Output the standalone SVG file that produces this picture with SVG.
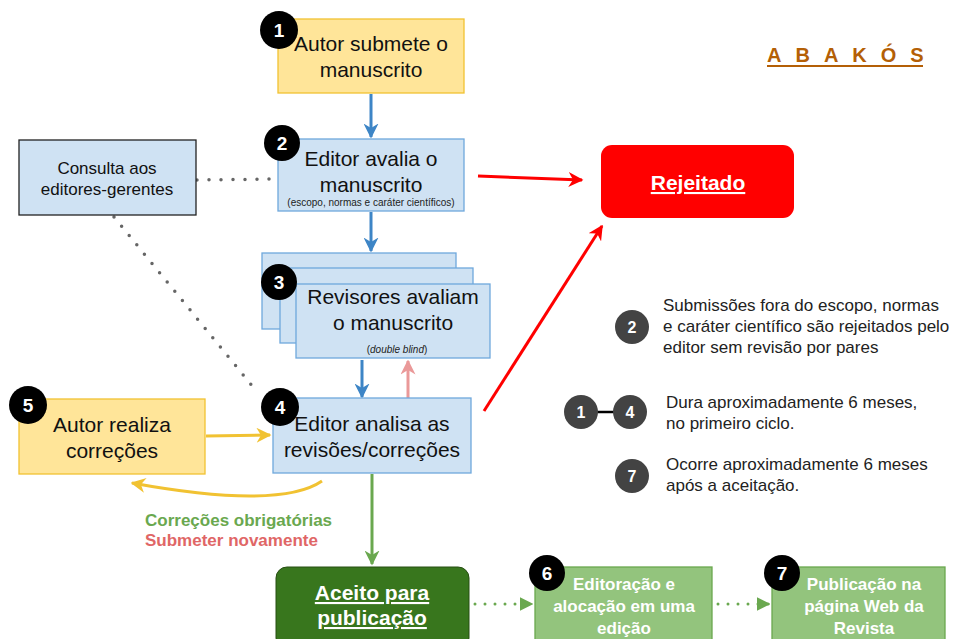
<svg xmlns="http://www.w3.org/2000/svg" width="957" height="639" viewBox="0 0 957 639">
<defs>
<style>
text{font-family:"Liberation Sans",Arial,sans-serif}
.yel{fill:#ffe599;stroke:#f1c232;stroke-width:1.3}
.blu{fill:#cfe2f3;stroke:#6fa8dc;stroke-width:1.3}
.gr{fill:#93c47d;stroke:#6aa84f;stroke-width:1.3}
.big{font-size:21px;fill:#111;text-anchor:middle}
.med{font-size:17px;fill:#111;text-anchor:middle}
.sm{font-size:10px;fill:#222;text-anchor:middle}
.badge{fill:#000}
.btxt{font-size:19px;font-weight:bold;fill:#fff;text-anchor:middle}
.lbadge{fill:#434343}
.ltxt{font-size:17px;fill:#222}
.wb{font-size:17px;font-weight:bold;fill:#fff;text-anchor:middle}
.dot{stroke:#666;stroke-width:3.5;stroke-linecap:round;stroke-dasharray:0 12;fill:none}
.gdot{stroke:#6aa84f;stroke-width:3;stroke-linecap:round;stroke-dasharray:0 10;fill:none}
</style>
<marker id="mb" viewBox="0 0 10 10" refX="9" refY="5" markerWidth="5" markerHeight="5" orient="auto" markerUnits="strokeWidth"><path d="M0,0 L10,5 L0,10 L3,5 z" fill="#3d85c6"/></marker>
<marker id="mp" viewBox="0 0 10 10" refX="9" refY="5" markerWidth="5" markerHeight="5" orient="auto" markerUnits="strokeWidth"><path d="M0,0 L10,5 L0,10 L3,5 z" fill="#ea9999"/></marker>
<marker id="mr" viewBox="0 0 10 10" refX="9" refY="5" markerWidth="5" markerHeight="5" orient="auto" markerUnits="strokeWidth"><path d="M0,0 L10,5 L0,10 L3,5 z" fill="#ff0000"/></marker>
<marker id="my" viewBox="0 0 10 10" refX="9" refY="5" markerWidth="5" markerHeight="5" orient="auto" markerUnits="strokeWidth"><path d="M0,0 L10,5 L0,10 L3,5 z" fill="#f1c232"/></marker>
<marker id="mg" viewBox="0 0 10 10" refX="9" refY="5" markerWidth="5" markerHeight="5" orient="auto" markerUnits="strokeWidth"><path d="M0,0 L10,5 L0,10 L3,5 z" fill="#6aa84f"/></marker>
<marker id="mgd" viewBox="0 0 10 10" refX="9" refY="5" markerWidth="4.5" markerHeight="4.5" orient="auto" markerUnits="strokeWidth"><path d="M0,0 L10,5 L0,10 z" fill="#6aa84f"/></marker>
</defs>
<rect width="957" height="639" fill="#fff"/>

<g id="title">
<text x="767" y="62" font-size="20" font-weight="bold" fill="#b45f06" letter-spacing="14">ABAKÓS</text>
<line x1="767" y1="66" x2="923" y2="66" stroke="#b45f06" stroke-width="2"/>
</g>

<g id="connectors">
<line x1="371" y1="94" x2="371" y2="137" stroke="#3d85c6" stroke-width="3" marker-end="url(#mb)"/>
<line x1="371" y1="212" x2="371" y2="251" stroke="#3d85c6" stroke-width="3" marker-end="url(#mb)"/>
<line x1="362" y1="360" x2="362" y2="397" stroke="#3d85c6" stroke-width="3" marker-end="url(#mb)"/>
<line x1="408" y1="398" x2="408" y2="361" stroke="#ea9999" stroke-width="3" marker-end="url(#mp)"/>
<line x1="197" y1="180" x2="277" y2="179" class="dot"/>
<line x1="114" y1="217" x2="258" y2="393" class="dot"/>
<line x1="478" y1="176" x2="582" y2="180" stroke="#ff0000" stroke-width="3" marker-end="url(#mr)"/>
<line x1="484" y1="411" x2="602" y2="226" stroke="#ff0000" stroke-width="3" marker-end="url(#mr)"/>
<line x1="206" y1="436" x2="270" y2="435" stroke="#f1c232" stroke-width="3" marker-end="url(#my)"/>
<path d="M322,481 Q280,510 132,483" stroke="#f1c232" stroke-width="3" fill="none" marker-end="url(#my)"/>
<line x1="372" y1="474" x2="372" y2="564" stroke="#6aa84f" stroke-width="3" marker-end="url(#mg)"/>
<line x1="475" y1="604" x2="532" y2="604" class="gdot" marker-end="url(#mgd)"/>
<line x1="718" y1="604" x2="769" y2="604" class="gdot" marker-end="url(#mgd)"/>
</g>

<g id="n1">
<rect x="278" y="19" width="186" height="74" class="yel"/>
<text x="371" y="51" class="big">Autor submete o</text>
<text x="371" y="77" class="big">manuscrito</text>
<circle cx="279" cy="30" r="19" class="badge"/>
<text x="279" y="37" class="btxt">1</text>
</g>

<g id="n2">
<rect x="278" y="139" width="186" height="72" class="blu"/>
<text x="371" y="166" class="big">Editor avalia o</text>
<text x="371" y="192" class="big">manuscrito</text>
<text x="371" y="206" class="sm">(escopo, normas e caráter científicos)</text>
<circle cx="282" cy="143" r="18" class="badge"/>
<text x="282" y="150" class="btxt">2</text>
</g>

<g id="consulta">
<rect x="19" y="140" width="177" height="75" fill="#cfe2f3" stroke="#222" stroke-width="1.3"/>
<text x="107" y="174" class="med">Consulta aos</text>
<text x="107" y="195" class="med">editores-gerentes</text>
</g>

<g id="n3">
<rect x="262" y="253" width="194" height="76" class="blu"/>
<rect x="280" y="268" width="193" height="75" class="blu"/>
<rect x="296" y="284" width="194" height="74" class="blu"/>
<text x="393" y="304" class="big">Revisores avaliam</text>
<text x="393" y="330" class="big">o manuscrito</text>
<text x="397" y="353" class="sm">(<tspan font-style="italic">double blind</tspan>)</text>
<circle cx="279" cy="282" r="18" class="badge"/>
<text x="279" y="289" class="btxt">3</text>
</g>

<g id="n4">
<rect x="273" y="398" width="198" height="75" class="blu"/>
<text x="372" y="431" class="big">Editor analisa as</text>
<text x="372" y="457" class="big">revisões/correções</text>
<circle cx="280" cy="407" r="19" class="badge"/>
<text x="280" y="414" class="btxt">4</text>
</g>

<g id="n5">
<rect x="19" y="399" width="186" height="75" class="yel"/>
<text x="112" y="432" class="big">Autor realiza</text>
<text x="112" y="458" class="big">correções</text>
<circle cx="28" cy="405" r="19" class="badge"/>
<text x="28" y="412" class="btxt">5</text>
</g>

<g id="labels">
<text x="145" y="526" font-size="17" font-weight="bold" fill="#6aa84f">Correções obrigatórias</text>
<text x="145" y="546" font-size="17" font-weight="bold" fill="#e06666">Submeter novamente</text>
</g>

<g id="rejeitado">
<rect x="601" y="145" width="193" height="73" rx="11" fill="#ff0000"/>
<text x="698" y="190" font-size="21" font-weight="bold" fill="#fff" text-anchor="middle" text-decoration="underline">Rejeitado</text>
</g>

<g id="aceito">
<rect x="276" y="567" width="193" height="82" rx="11" fill="#38761d" stroke="#274e13" stroke-width="1"/>
<text x="372" y="600" font-size="21" font-weight="bold" fill="#fff" text-anchor="middle" text-decoration="underline">Aceito para</text>
<text x="372" y="625" font-size="21" font-weight="bold" fill="#fff" text-anchor="middle" text-decoration="underline">publicação</text>
</g>

<g id="n6">
<rect x="535" y="567" width="177" height="80" class="gr"/>
<text x="624" y="590" class="wb">Editoração e</text>
<text x="624" y="612" class="wb">alocação em uma</text>
<text x="624" y="634" class="wb">edição</text>
<circle cx="547" cy="573" r="18" class="badge"/>
<text x="547" y="580" class="btxt">6</text>
</g>

<g id="n7">
<rect x="772" y="567" width="173" height="80" class="gr"/>
<text x="864" y="590" class="wb">Publicação na</text>
<text x="864" y="612" class="wb">página Web da</text>
<text x="864" y="634" class="wb">Revista</text>
<circle cx="782" cy="573" r="18" class="badge"/>
<text x="782" y="580" class="btxt">7</text>
</g>

<g id="legend">
<circle cx="632" cy="327" r="17" class="lbadge"/>
<text x="632" y="333" font-size="16" font-weight="bold" fill="#fff" text-anchor="middle">2</text>
<text x="663" y="311" class="ltxt">Submissões fora do escopo, normas</text>
<text x="663" y="332" class="ltxt">e caráter científico são rejeitados pelo</text>
<text x="663" y="353" class="ltxt">editor sem revisão por pares</text>

<line x1="596" y1="412" x2="614" y2="412" stroke="#000" stroke-width="2.5"/>
<circle cx="581" cy="412" r="17" class="lbadge"/>
<text x="581" y="418" font-size="16" font-weight="bold" fill="#fff" text-anchor="middle">1</text>
<circle cx="630" cy="412" r="17" class="lbadge"/>
<text x="630" y="418" font-size="16" font-weight="bold" fill="#fff" text-anchor="middle">4</text>
<text x="666" y="408" class="ltxt">Dura aproximadamente 6 meses,</text>
<text x="666" y="429" class="ltxt">no primeiro ciclo.</text>

<circle cx="632" cy="476" r="17" class="lbadge"/>
<text x="632" y="482" font-size="16" font-weight="bold" fill="#fff" text-anchor="middle">7</text>
<text x="666" y="470" class="ltxt">Ocorre aproximadamente 6 meses</text>
<text x="666" y="491" class="ltxt">após a aceitação.</text>
</g>
</svg>
